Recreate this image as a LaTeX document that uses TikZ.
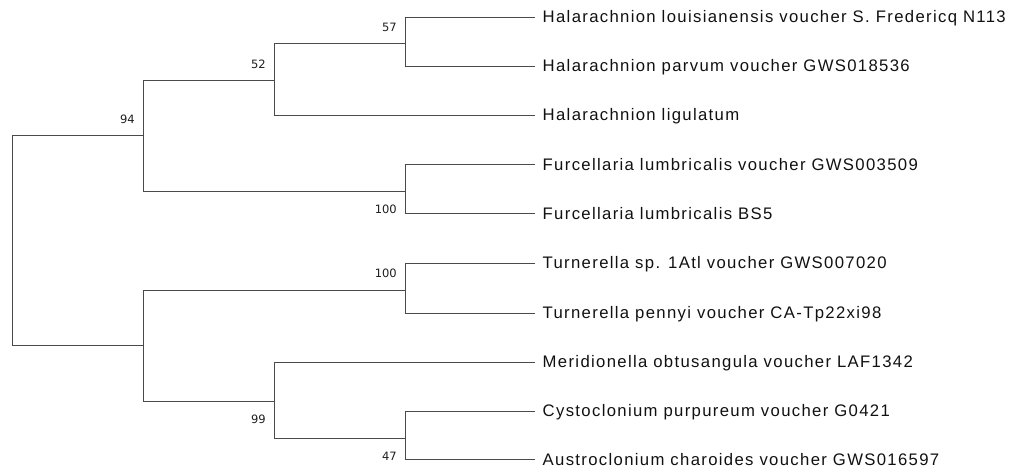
\documentclass[tikz,border=0pt]{standalone}
\usepackage{fontspec}
\setmainfont{Liberation Sans}[LetterSpace=8]
\newfontfamily\bootfont{DejaVu Sans}
\definecolor{branchgray}{HTML}{4A4A4A}
\definecolor{tiptext}{HTML}{111111}
\definecolor{boottext}{HTML}{1E1E1E}
\begin{document}
\begin{tikzpicture}[x=1pt,y=-1pt,
  branch/.style={draw=branchgray,line width=1.3pt,line cap=rect},
  tip/.style={anchor=mid west,inner xsep=8.5pt,inner ysep=0pt,text=tiptext,font=\fontsize{16.7}{18}\selectfont},
  boot/.style={text=boottext,font=\bootfont\fontsize{11.5}{13}\selectfont,inner sep=0pt}]
\useasboundingbox (0,0) rectangle (1029,473);
% internal nodes
\coordinate (root) at (12.5,240.5);
\coordinate (A) at (143.5,135.5);
\coordinate (B) at (274.5,80.5);
\coordinate (C) at (405.5,43.5);
\coordinate (D) at (405.5,191.5);
\coordinate (E) at (143.5,345.5);
\coordinate (F) at (405.5,290.5);
\coordinate (G) at (274.5,401.5);
\coordinate (H) at (405.5,438.5);
% tips
\node[tip] (t1) at (534,19.5) {Halarachnion louisianensis voucher S. Fredericq N113};
\node[tip] (t2) at (534,68.5) {Halarachnion parvum voucher GWS018536};
\node[tip] (t3) at (534,117.5) {Halarachnion ligulatum};
\node[tip] (t4) at (534,167.5) {Furcellaria lumbricalis voucher GWS003509};
\node[tip] (t5) at (534,216.5) {Furcellaria lumbricalis BS5};
\node[tip] (t6) at (534,265.5) {Turnerella sp. 1Atl voucher GWS007020};
\node[tip] (t7) at (534,315.5) {Turnerella pennyi voucher CA-Tp22xi98};
\node[tip] (t8) at (534,364.5) {Meridionella obtusangula voucher LAF1342};
\node[tip] (t9) at (534,413.5) {Cystoclonium purpureum voucher G0421};
\node[tip] (t10) at (534,462.5) {Austroclonium charoides voucher GWS016597};
% branches
\draw[branch] (root) |- (A);
\draw[branch] (root) |- (E);
\draw[branch] (A) |- (B);
\draw[branch] (A) |- (D);
\draw[branch] (B) |- (C);
\draw[branch] (B) |- (t3.west);
\draw[branch] (C) |- (t1.west);
\draw[branch] (C) |- (t2.west);
\draw[branch] (D) |- (t4.west);
\draw[branch] (D) |- (t5.west);
\draw[branch] (E) |- (F);
\draw[branch] (E) |- (G);
\draw[branch] (F) |- (t6.west);
\draw[branch] (F) |- (t7.west);
\draw[branch] (G) |- (t8.west);
\draw[branch] (G) |- (H);
\draw[branch] (H) |- (t9.west);
\draw[branch] (H) |- (t10.west);
% bootstrap values
\node[boot,anchor=east] (b94) at (135,119.5) {94};
\node[boot,anchor=east] (b52) at (266,64.5) {52};
\node[boot,anchor=east] (b57) at (397,27.5) {57};
\node[boot,anchor=east] (b100a) at (397,209.5) {100};
\node[boot,anchor=east] (b100b) at (397,273.5) {100};
\node[boot,anchor=east] (b99) at (266,419.5) {99};
\node[boot,anchor=east] (b47) at (397,456.5) {47};
\end{tikzpicture}
\end{document}
